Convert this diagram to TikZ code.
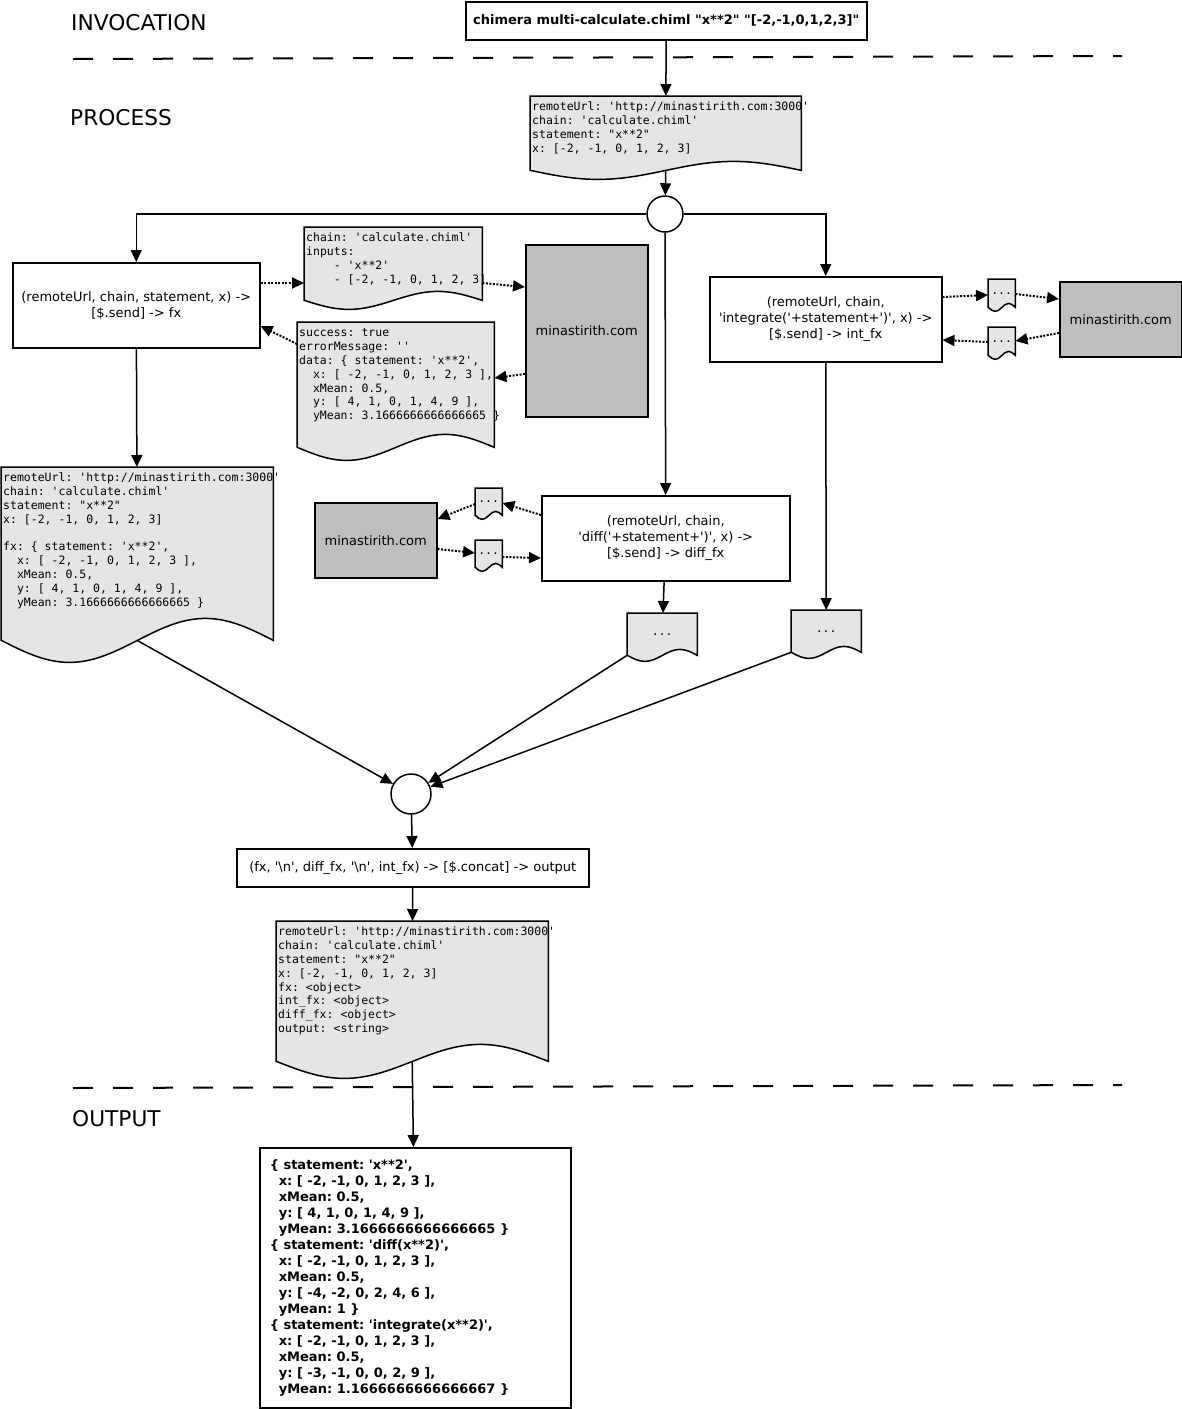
\documentclass[tikz,border=0pt]{standalone}
\usepackage{fontspec}
\setmainfont{DejaVu Sans}[Ligatures=TeXOff]
\newfontfamily\codefont{DejaVu Sans Mono}[Ligatures=TeXOff]
\usetikzlibrary{arrows.meta,calc,backgrounds}
\definecolor{docgray}{HTML}{E5E5E5}
\definecolor{srvgray}{HTML}{BEBEBE}
\newcommand\doctext[3]{\parbox[c][#2][t]{#1}{\vspace*{5pt}\hspace*{2pt}\begin{tabular}[t]{@{}l@{}}#3\end{tabular}}}
\newcommand\docframe[3]{\filldraw[docbody] (#1.south west) -- (#1.north west) -- (#1.north east) -- (#1.south east)
  sin ++(-#2/4,-#3) cos ++(-#2/4,#3) sin ++(-#2/4,#3) cos ++(-#2/4,-#3) -- cycle;}

\begin{document}
\frenchspacing
\begin{tikzpicture}[x=1pt, y=-1pt,
    every node/.style={inner sep=0pt},
    section/.style={anchor=west, font=\fontsize{21.7}{25}\selectfont},
    proc/.style={draw, line width=1.5pt, fill=white, anchor=north west, align=center, font=\fontsize{13}{16}\selectfont},
    result/.style={draw, line width=1.5pt, fill=white, anchor=north west, font=\bfseries\fontsize{13}{16}\selectfont},
    host/.style={draw, line width=1.5pt, fill=srvgray, anchor=north west, font=\fontsize{13}{16}\selectfont},
    docu/.style={anchor=north west, font=\codefont\fontsize{11.5}{13.8}\selectfont},
    docbody/.style={draw, fill=docgray, line width=1.5pt},
    junction/.style={circle, draw, fill=white, line width=1.5pt},
    flow/.style={-{Triangle[length=12pt,width=11pt]}, line width=1.5pt},
    msg/.style={flow, line width=2pt, dash pattern=on 2pt off 1.5pt},
    sep/.style={line width=2pt, dash pattern=on 20pt off 20pt},
    elbow/.style={to path={-| (\tikztotarget)}}]
\useasboundingbox (0,0) rectangle (1182,1409);

\node[section] (invocation) at (71,23) {INVOCATION};
\node[section] (process) at (70,118) {PROCESS};
\node[section] (output) at (72,1119) {OUTPUT};
\draw[sep] (73,59) -- (1122,56);
\draw[sep] (73,1088) -- (1122,1085);

\node[proc, minimum width=401pt, minimum height=38pt, font=\bfseries\fontsize{13}{15}\selectfont] (inv) at (465,1)
  {chimera multi-calculate.chiml "x**2" "[-2,-1,0,1,2,3]"};
\node[docu] (D1) at (530,96) {\doctext{271pt}{74pt}{remoteUrl: 'http://minastirith.com:3000'\\
  chain: 'calculate.chiml'\\
  statement: "x**2"\\
  x: [-2, -1, 0, 1, 2, 3]}};
\node[junction, minimum size=36pt] (F) at (665,214) {};

\node[proc, minimum width=247pt, minimum height=85pt] (fx) at (12,262)
  {(remoteUrl, chain, statement, x) ->\\{}[\$.send] -> fx};
\node[docu] (req) at (304,227) {\doctext{178pt}{73pt}{chain: 'calculate.chiml'\\
  inputs:\\
  \ \ \ \ - 'x**2'\\
  \ \ \ \ - [-2, -1, 0, 1, 2, 3]}};
\node[host, minimum width=122pt, minimum height=172pt] (srv1) at (525,244) {minastirith.com};
\node[docu] (resp) at (297,322) {\doctext{197pt}{125pt}{success: true\\
  errorMessage: ''\\
  data: \{ statement: 'x**2',\\
  \ \ x: [ -2, -1, 0, 1, 2, 3 ],\\
  \ \ xMean: 0.5,\\
  \ \ y: [ 4, 1, 0, 1, 4, 9 ],\\
  \ \ yMean: 3.1666666666666665 \}}};

\node[proc, minimum width=232pt, minimum height=85pt] (int) at (709,276)
  {(remoteUrl, chain,\\ 'integrate('+statement+')', x) ->\\{}[\$.send] -> int\_fx};
\node[docu, minimum width=27pt, minimum height=28pt] (s1) at (988,279) {...};
\node[docu, minimum width=27pt, minimum height=28pt] (s2) at (988,327) {...};
\node[host, minimum width=122pt, minimum height=75pt] (srv2) at (1059,281) {minastirith.com};

\node[proc, minimum width=248pt, minimum height=85pt] (diff) at (541,495)
  {(remoteUrl, chain,\\ 'diff('+statement+')', x) ->\\{}[\$.send] -> diff\_fx};
\node[docu, minimum width=27pt, minimum height=27pt] (s3) at (475,488) {...};
\node[docu, minimum width=27pt, minimum height=27pt] (s4) at (475,540) {...};
\node[host, minimum width=122pt, minimum height=75pt] (srv3) at (314,502) {minastirith.com};

\node[docu] (D4) at (1,467) {\doctext{272pt}{173pt}{remoteUrl: 'http://minastirith.com:3000'\\
  chain: 'calculate.chiml'\\
  statement: "x**2"\\
  x: [-2, -1, 0, 1, 2, 3]\\[13.8pt]
  fx: \{ statement: 'x**2',\\
  \ \ x: [ -2, -1, 0, 1, 2, 3 ],\\
  \ \ xMean: 0.5,\\
  \ \ y: [ 4, 1, 0, 1, 4, 9 ],\\
  \ \ yMean: 3.1666666666666665 \}}};
\node[docu, minimum width=70pt, minimum height=42pt] (diffout) at (627,613) {...};
\node[docu, minimum width=70pt, minimum height=42pt] (intout) at (791,610) {...};

\node[junction, minimum size=40pt] (J) at (411,794) {};
\node[proc, minimum width=352pt, minimum height=38pt] (cat) at (236,848)
  {(fx, '\textbackslash n', diff\_fx, '\textbackslash n', int\_fx) -> [\$.concat] -> output};
\node[docu] (D5) at (276,921) {\doctext{272pt}{140pt}{remoteUrl: 'http://minastirith.com:3000'\\
  chain: 'calculate.chiml'\\
  statement: "x**2"\\
  x: [-2, -1, 0, 1, 2, 3]\\
  fx: <object>\\
  int\_fx: <object>\\
  diff\_fx: <object>\\
  output: <string>}};
\node[result] (out) at (259,1147) {\parbox[c][260pt][t]{311pt}{\raggedright\leftskip=10pt\relax\vspace*{12pt}%
  \{ statement: 'x**2',\\
  \ \ x: [ -2, -1, 0, 1, 2, 3 ],\\
  \ \ xMean: 0.5,\\
  \ \ y: [ 4, 1, 0, 1, 4, 9 ],\\
  \ \ yMean: 3.1666666666666665 \}\\
  \{ statement: 'diff(x**2)',\\
  \ \ x: [ -2, -1, 0, 1, 2, 3 ],\\
  \ \ xMean: 0.5,\\
  \ \ y: [ -4, -2, 0, 2, 4, 6 ],\\
  \ \ yMean: 1 \}\\
  \{ statement: 'integrate(x**2)',\\
  \ \ x: [ -2, -1, 0, 1, 2, 3 ],\\
  \ \ xMean: 0.5,\\
  \ \ y: [ -3, -1, 0, 0, 2, 9 ],\\
  \ \ yMean: 1.1666666666666667 \}}};

\path[flow]
  (inv) edge (D1)
  (D1.south) edge (F)
  (F) edge[elbow] (fx)
  (F) edge[elbow] (int)
  (F) edge (diff)
  (fx) edge (D4)
  (int) edge (intout)
  (diff) edge (diffout)
  (D4.south) edge (J)
  (diffout.south west) edge (J)
  (intout.south west) edge (J)
  (J) edge (cat)
  (cat) edge (D5)
  (D5.south) edge (out);

\path[msg]
  ($(fx.north east)+(0,21)$) edge ($(req.north west)+(0,56)$)
  ($(req.north east)+(0,56)$) edge ($(srv1.north west)+(0,43)$)
  ($(srv1.north west)+(0,130)$) edge ($(resp.north east)+(0,56)$)
  ($(resp.north west)+(0,22)$) edge ($(fx.north east)+(0,64)$)
  ($(int.north east)+(0,21)$) edge ($(s1.north west)+(0,16)$)
  ($(s1.north east)+(0,15)$) edge ($(srv2.north west)+(0,18)$)
  ($(srv2.north west)+(0,52)$) edge ($(s2.north east)+(0,14)$)
  ($(s2.north west)+(0,15)$) edge ($(int.north east)+(0,64)$)
  ($(diff.north west)+(0,20)$) edge ($(s3.north east)+(0,15)$)
  ($(s3.north west)+(0,16)$) edge ($(srv3.north east)+(0,17)$)
  ($(srv3.north east)+(0,47)$) edge ($(s4.north west)+(0,13)$)
  ($(s4.north east)+(0,17)$) edge ($(diff.north west)+(0,63)$);

\begin{scope}[on background layer]
\docframe{D1}{271}{9}
\docframe{req}{178}{9}
\docframe{resp}{197}{13}
\docframe{D4}{272}{22}
\docframe{D5}{272}{17}
\docframe{s1}{27}{4}
\docframe{s2}{27}{4}
\docframe{s3}{27}{4}
\docframe{s4}{27}{4}
\docframe{diffout}{70}{6}
\docframe{intout}{70}{6}
\end{scope}
\end{tikzpicture}
\end{document}
